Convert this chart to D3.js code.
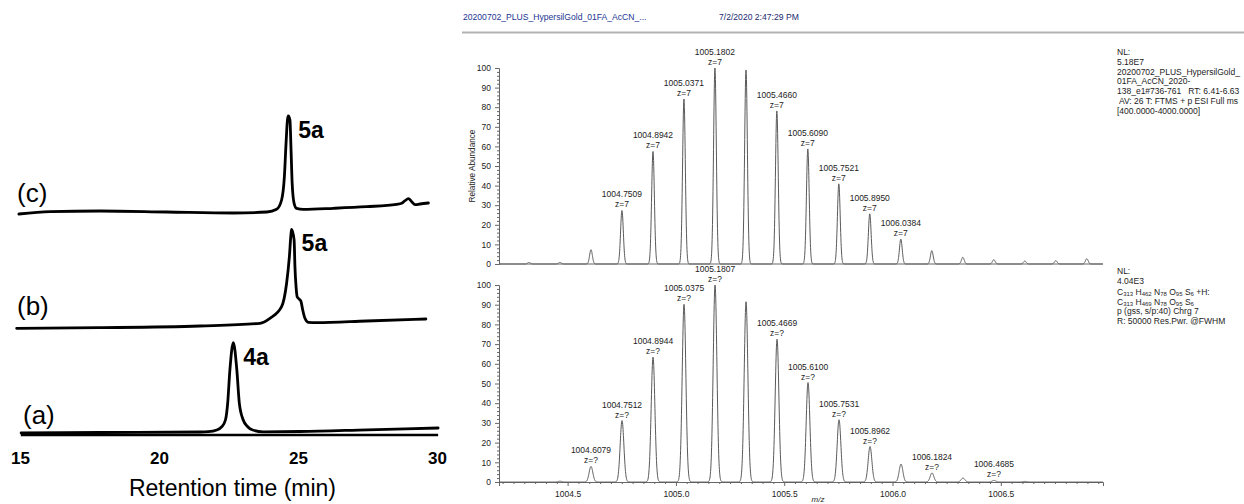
<!DOCTYPE html>
<html>
<head>
<meta charset="utf-8">
<script src="https://cdn.jsdelivr.net/npm/d3@7"></script>
<style>
  html, body { margin: 0; padding: 0; background: #fff; }
  svg { display: block; }
  text { font-family: "Liberation Sans", Arial, sans-serif; }
</style>
</head>
<body>
<svg id="fig" width="1244" height="504"></svg>
<script>
// ---------- HPLC traces (retention time in min, detector signal in arbitrary units above each trace's baseline) ----------
const rtTicks = [15, 20, 25, 30];
const traceNames = ["(a)", "(b)", "(c)"];
const traceOffsets = [0, 106, 220];
const peakNames = ["4a", "5a", "5a"];

const traceA = [
  [15.04, 2], [17.9, 2.5], [21.47, 3], [21.77, 3.3], [22.08, 5], [22.26, 8.3], [22.39, 15],
  [22.47, 31.7], [22.55, 65], [22.673, 92.3], [22.80, 65], [22.89, 31.7], [23.03, 15],
  [23.19, 8.3], [23.37, 5], [23.75, 3.2], [25.07, 3.5], [27.5, 5.2], [30.04, 7]
];
const traceB = [
  [14.88, 0.7], [17.88, 1.3], [21.47, 3], [23.63, 5.7], [23.99, 10.7], [24.41, 22.3],
  [24.59, 45.7], [24.69, 72.3], [24.75, 95.7], [24.77, 99.7], [24.86, 89], [24.89, 62.3],
  [24.93, 42.3], [24.97, 32.3], [25.05, 29.7], [25.11, 27.3], [25.17, 19], [25.25, 10.7],
  [25.37, 6.7], [25.67, 6.3], [27.47, 8], [29.6, 10]
];
const traceC = [
  [14.96, 1], [16.08, 3.3], [17.88, 4], [20.28, 3], [22.68, 2], [23.88, 3], [24.23, 5.7],
  [24.41, 15], [24.51, 38.3], [24.57, 71.7], [24.62, 95], [24.65, 99], [24.71, 95],
  [24.75, 65], [24.79, 31.7], [24.86, 11.7], [24.95, 6.7], [25.19, 5.7], [26.27, 6.7],
  [27.47, 8.3], [28.55, 10.7], [28.73, 11.7], [28.85, 14.3], [28.97, 16.3], [29.09, 13.3],
  [29.21, 10.3], [29.39, 11], [29.69, 12]
];
const traces = [traceA, traceB, traceC];

// ---------- Mass spectra: measured (top) and simulated isotope pattern (bottom) ----------
const measuredMz = [1004.3218, 1004.4648, 1004.6079, 1004.7509, 1004.8942, 1005.0371, 1005.1802,
  1005.3236, 1005.4660, 1005.6090, 1005.7521, 1005.8950, 1006.0384, 1006.1815, 1006.3246,
  1006.4677, 1006.6108, 1006.7539, 1006.8970];
const measuredInt = [0.8, 0.8, 7.3, 27.3, 57.4, 84.2, 100, 99.0, 78.1, 58.7, 40.9, 25.6, 12.7,
  6.8, 3.4, 2.2, 1.5, 1.7, 2.7];
const measuredLabel = [null, null, null, "1004.7509", "1004.8942", "1005.0371", "1005.1802",
  null, "1005.4660", "1005.6090", "1005.7521", "1005.8950", "1006.0384",
  null, null, null, null, null, null];
const measuredCharge = "z=7";

const simMz = [1004.4648, 1004.6079, 1004.7512, 1004.8944, 1005.0375, 1005.1807, 1005.3238,
  1005.4669, 1005.6100, 1005.7531, 1005.8962, 1006.0393, 1006.1824, 1006.3255, 1006.4685, 1006.6116];
const simInt = [0.4, 7.9, 31.2, 63.4, 90.2, 100, 91.5, 72.5, 50.5, 31.6, 18.0, 9.1, 4.6, 2.0, 0.8, 0.3];
const simLabel = [null, "1004.6079", "1004.7512", "1004.8944", "1005.0375", "1005.1807", null,
  "1005.4669", "1005.6100", "1005.7531", "1005.8962", null, "1006.1824", null, "1006.4685", null];
const simCharge = "z=?";

const mzDomain = [1004.1832, 1006.9718];
const mzTicks = [1004.5, 1005.0, 1005.5, 1006.0, 1006.5];
const abundanceTicks = [0, 10, 20, 30, 40, 50, 60, 70, 80, 90, 100];

const headerFile = "20200702_PLUS_HypersilGold_01FA_AcCN_...";
const headerDate = "7/2/2020 2:47:29 PM";
const topInfo = ["NL:", "5.18E7", "20200702_PLUS_HypersilGold_", "01FA_AcCN_2020-",
  "138_e1#736-761   RT: 6.41-6.63", " AV: 26 T: FTMS + p ESI Full ms", "[400.0000-4000.0000]"];
const bottomInfoPlain = ["NL:", "4.04E3"];
const formulaIon = [["C", "313"], ["H", "462"], ["N", "78"], ["O", "95"], ["S", "6"], ["+H:", null]];
const formulaNeutral = [["C", "313"], ["H", "469"], ["N", "78"], ["O", "95"], ["S", "6"]];
const bottomInfoTail = ["p (gss, s/p:40) Chrg 7", "R: 50000 Res.Pwr. @FWHM"];

const svg = d3.select("#fig");

// ================= Left: chromatograms =================
const xRt = d3.scaleLinear().domain([15, 30]).range([20, 437]);
const ySig = d3.scaleLinear().domain([0, 330]).range([435, 105]);

const left = svg.append("g");

// retention-time axis line
left.append("line")
  .attr("x1", xRt(15.03)).attr("x2", xRt(30.04))
  .attr("y1", ySig(0)).attr("y2", ySig(0))
  .attr("stroke", "#000").attr("stroke-width", 2.6);

const traceLine = d3.line().curve(d3.curveMonotoneX);
traces.forEach((tr, i) => {
  const off = traceOffsets[i];
  left.append("path")
    .attr("d", traceLine(tr.map(d => [xRt(d[0]), ySig(d[1] + off)])))
    .attr("fill", "none").attr("stroke", "#000")
    .attr("stroke-width", 2.8).attr("stroke-linejoin", "round").attr("stroke-linecap", "round");

  // apex of the main peak, for the compound label
  const apex = tr.reduce((a, b) => (b[1] > a[1] ? b : a));
  left.append("text")
    .attr("x", xRt(apex[0]) + 10)
    .attr("y", ySig(apex[1] + off) + 22)
    .attr("font-size", 23).attr("font-weight", "bold").attr("fill", "#000")
    .text(peakNames[i]);
});

// trace names
const nameX = [23, 17, 17];
const nameY = [424, 315, 202];
traceNames.forEach((n, i) => {
  left.append("text").attr("x", nameX[i]).attr("y", nameY[i])
    .attr("font-size", 26).attr("fill", "#000").text(n);
});

// tick labels + axis title
const rtAxis = d3.axisBottom(xRt).tickValues(rtTicks).tickSize(0).tickPadding(0).tickFormat(d3.format("d"));
const rtG = left.append("g").attr("transform", "translate(0,452)").call(rtAxis);
rtG.select(".domain").remove();
rtG.selectAll("text")
  .attr("font-size", 17).attr("font-weight", "bold").attr("fill", "#000")
  .attr("font-family", "'Liberation Sans', Arial, sans-serif");

left.append("text")
  .attr("x", xRt(22.5) + 4).attr("y", 496)
  .attr("text-anchor", "middle").attr("font-size", 23).attr("fill", "#000")
  .text("Retention time (min)");

// ================= Right: mass spectra =================
const right = svg.append("g");
const fs = 8.5;
const ink = "#1c1c1c";

// header
right.append("text").attr("x", 463).attr("y", 20).attr("font-size", 8.6)
  .attr("fill", "#22358f").text(headerFile);
right.append("text").attr("x", 719).attr("y", 20).attr("font-size", 8.6)
  .attr("fill", "#1d2a70").text(headerDate);
right.append("rect").attr("x", 462).attr("y", 31.5).attr("width", 782).attr("height", 2)
  .attr("fill", "#b3b3b3");

const xMz = d3.scaleLinear().domain(mzDomain).range([499, 1103]);
const yTop = d3.scaleLinear().domain([0, 100]).range([264, 68]);
const yBot = d3.scaleLinear().domain([0, 100]).range([482, 285]);

// profile trace built from the centroid list with a Gaussian line shape
function profile(mz, inten, fwhm) {
  const sigma = fwhm / 2.3548;
  const step = 0.0008;
  const pts = [];
  for (let m = mzDomain[0]; m <= mzDomain[1] + 1e-9; m += step) {
    let v = 0;
    for (let k = 0; k < mz.length; k++) {
      const z = (m - mz[k]) / sigma;
      if (Math.abs(z) < 6) v += inten[k] * Math.exp(-0.5 * z * z);
    }
    pts.push([m, v]);
  }
  // make sure every apex is sampled exactly
  mz.forEach((c, k) => pts.push([c, inten[k]]));
  pts.sort((a, b) => a[0] - b[0]);
  return pts;
}

function spectrum(y, mz, inten, labels, charge, fwhm, withTicks) {
  const g = right.append("g");

  // y axis with minor ticks
  const minor = d3.range(0, 101, 2).filter(v => v % 10 !== 0);
  const yMinor = d3.axisLeft(y).tickValues(minor).tickSize(2).tickFormat("");
  const gm = g.append("g").attr("transform", "translate(499,0)").call(yMinor);
  gm.select(".domain").remove();
  gm.selectAll("line").attr("stroke", "#666");

  const yAxis = d3.axisLeft(y).tickValues(abundanceTicks).tickSize(4).tickPadding(4);
  const ga = g.append("g").attr("transform", "translate(499,0)").call(yAxis);
  ga.select(".domain").attr("stroke", "#666");
  ga.selectAll("line").attr("stroke", "#666");
  ga.selectAll("text").attr("font-size", fs).attr("fill", ink)
    .attr("font-family", "'Liberation Sans', Arial, sans-serif");

  // m/z axis
  if (withTicks) {
    const minorMz = d3.range(1004.2, 1006.97, 0.05).filter(v => Math.abs(v * 2 - Math.round(v * 2)) > 1e-6);
    const xm = d3.axisBottom(xMz).tickValues(minorMz).tickSize(2).tickFormat("");
    const gxm = g.append("g").attr("transform", `translate(0,${y(0)})`).call(xm);
    gxm.select(".domain").remove();
    gxm.selectAll("line").attr("stroke", "#666");
    const xa = d3.axisBottom(xMz).tickValues(mzTicks).tickSize(4).tickPadding(5).tickFormat(d3.format(".1f"));
    const gx = g.append("g").attr("transform", `translate(0,${y(0)})`).call(xa);
    gx.select(".domain").attr("stroke", "#666");
    gx.selectAll("line").attr("stroke", "#666");
    gx.selectAll("text").attr("font-size", fs).attr("fill", ink)
      .attr("font-family", "'Liberation Sans', Arial, sans-serif");
  } else {
    g.append("line").attr("x1", 499).attr("x2", 1103).attr("y1", y(0)).attr("y2", y(0))
      .attr("stroke", "#666").attr("stroke-width", 1);
  }

  // profile
  const line = d3.line().x(d => xMz(d[0])).y(d => y(d[1]));
  g.append("path").attr("d", line(profile(mz, inten, fwhm)))
    .attr("fill", "none").attr("stroke", "#5a5a5a").attr("stroke-width", 1);

  // peak annotations
  mz.forEach((m, k) => {
    if (!labels[k]) return;
    const ax = xMz(m), ay = y(inten[k]);
    g.append("text").attr("x", ax).attr("y", ay - 13).attr("text-anchor", "middle")
      .attr("font-size", fs).attr("fill", ink).text(labels[k]);
    g.append("text").attr("x", ax).attr("y", ay - 3).attr("text-anchor", "middle")
      .attr("font-size", fs).attr("fill", ink).text(charge);
  });
  return g;
}

spectrum(yTop, measuredMz, measuredInt, measuredLabel, measuredCharge, 0.015, false);
spectrum(yBot, simMz, simInt, simLabel, simCharge, 0.0201, true);

right.append("text")
  .attr("transform", `translate(475,${(yTop(0) + yTop(100)) / 2}) rotate(-90)`)
  .attr("text-anchor", "middle").attr("font-size", 8.2).attr("fill", ink)
  .text("Relative Abundance");

right.append("text").attr("x", 818).attr("y", 502).attr("text-anchor", "middle")
  .attr("font-size", 8).attr("font-style", "italic").attr("fill", ink).text("m/z");

// info blocks
topInfo.forEach((s, i) => {
  right.append("text").attr("x", 1117).attr("y", 55 + i * 9.8)
    .attr("font-size", fs).attr("fill", ink).attr("xml:space", "preserve")
    .style("white-space", "pre").text(s);
});
bottomInfoPlain.forEach((s, i) => {
  right.append("text").attr("x", 1117).attr("y", 274 + i * 9.8)
    .attr("font-size", fs).attr("fill", ink).text(s);
});
function formula(parts, yPos) {
  const t = right.append("text").attr("x", 1117).attr("y", yPos)
    .attr("font-size", fs).attr("fill", ink);
  parts.forEach((p, i) => {
    t.append("tspan").attr("dy", i === 0 ? 0 : -1).attr("font-size", fs)
      .text((i === 0 ? "" : " ") + p[0]);
    if (p[1]) t.append("tspan").attr("dy", 1).attr("font-size", 6).text(p[1]);
    else t.append("tspan").attr("dy", 1).text("");
  });
}
formula(formulaIon, 295);
formula(formulaNeutral, 304.5);
bottomInfoTail.forEach((s, i) => {
  right.append("text").attr("x", 1117).attr("y", 314 + i * 9.5)
    .attr("font-size", fs).attr("fill", ink).text(s);
});
</script>
</body>
</html>
